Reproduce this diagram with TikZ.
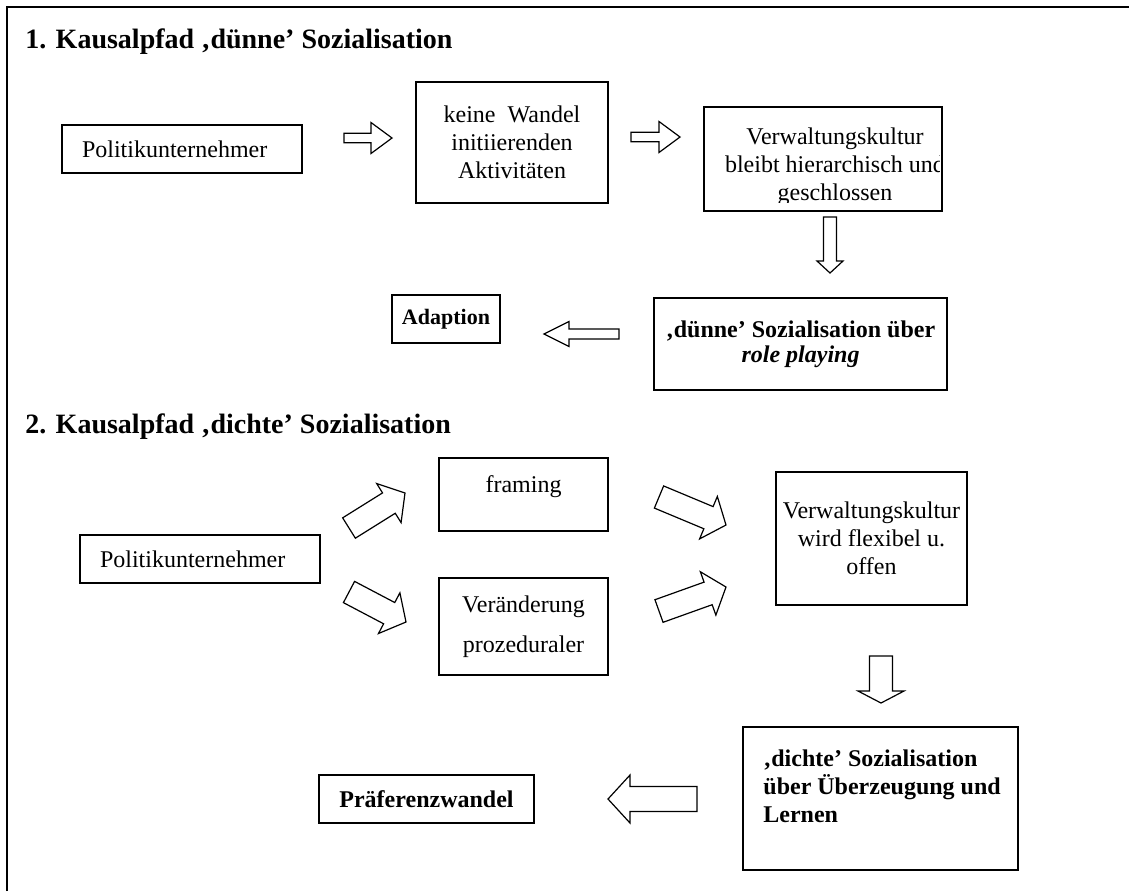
\documentclass[tikz,border=0pt]{standalone}
\usepackage{fontspec}
\setmainfont{Liberation Serif}
\usetikzlibrary{calc}

\tikzset{
  box/.style={draw, line width=1pt, inner sep=0pt, align=center,
    font=\fontsize{12}{14}\selectfont},
  boldbox/.style={box, font=\fontsize{12}{14}\selectfont\bfseries},
  txt/.style={inner sep=0pt, font=\fontsize{12}{14}\selectfont},
  heading/.style={inner sep=0pt, anchor=base west,
    font=\fontsize{14}{16}\selectfont\bfseries},
  hollow/.style={draw, line width=0.6pt, fill=white, line join=miter},
  frameline/.style={line width=1.2pt},
}

% hollow block arrow: start, tip, shaft half width, head half width, head length
\newcommand\blockarr[5]{%
  \coordinate (ba-s) at #1;
  \coordinate (ba-e) at #2;
  \coordinate (ba-h) at ($(ba-e)!#5!(ba-s)$);
  \draw[hollow] ($(ba-s)!#3!90:(ba-e)$) -- ($(ba-h)!#3!90:(ba-e)$)
    -- ($(ba-h)!#4!90:(ba-e)$) -- (ba-e) -- ($(ba-h)!#4!-90:(ba-e)$)
    -- ($(ba-h)!#3!-90:(ba-e)$) -- ($(ba-s)!#3!-90:(ba-e)$) -- cycle;
}

\begin{document}
\begin{tikzpicture}[x=0.5pt, y=-0.5pt]
\useasboundingbox (0,0) rectangle (1129,891);

% open outer frame
\draw[frameline] (7,891) -- (7,7) -- (1129,7);

% ---------- path 1 ----------
\node[heading] (h1) at (25,48) {1. Kausalpfad ‚dünne’ Sozialisation};

\node[box, text width=100pt, inner xsep=10pt, align=left, minimum height=24pt]
  (p1) at (182,149) {Politikunternehmer};
\node[box, minimum width=96pt, minimum height=60.5pt]
  (keine) at (512,142.5) {keine\ \ Wandel\\initiierenden\\Aktivitäten};
\node[box, minimum width=119pt, minimum height=52pt] (verw1) at (823,159) {};
\begin{scope}
  \clip ($(verw1.south west)+(4,-10)$) rectangle ($(verw1.north east)+(-4,4)$);
  \node[txt, align=center, anchor=north] (verw1t) at ($(verw1.north)+(12,21.5)$)
    {Verwaltungskultur\\bleibt hierarchisch und\\geschlossen};
\end{scope}
\node[boldbox, minimum width=146.5pt, minimum height=46pt,
  font=\fontsize{12}{12.5}\selectfont\bfseries]
  (dunne) at (800.5,344) {‚dünne’ Sozialisation über\\\textit{role playing}};
\node[boldbox, minimum width=54pt, minimum height=24pt,
  font=\fontsize{11}{13}\selectfont\bfseries] (adapt) at (446,319) {Adaption};

\blockarr{($(p1.east)+(41,-11)$)}{($(keine.west)+(-23,-4.5)$)}{2.35pt}{7.75pt}{10.5pt}
\blockarr{($(keine.east)+(22,-5.5)$)}{($(verw1.west)+(-23,-22)$)}{2.35pt}{7.75pt}{10.5pt}
\blockarr{($(verw1.south)+(7,5)$)}{($(dunne.north)+(29.5,-24)$)}{3.25pt}{6.5pt}{6pt}
\blockarr{($(dunne.west)+(-34,-10)$)}{($(adapt.east)+(43,15)$)}{2.5pt}{6.25pt}{12.5pt}

% ---------- path 2 ----------
\node[heading] (h2) at (25,433) {2. Kausalpfad ‚dichte’ Sozialisation};

\node[box, text width=100pt, inner xsep=10pt, align=left, minimum height=24pt]
  (p2) at (200,559) {Politikunternehmer};
\node[box, minimum width=84.5pt, minimum height=36.5pt] (framing) at (523.5,494.5) {};
\node[txt, anchor=base] (framingt) at ($(framing.north)+(0,35)$) {framing};
\node[box, minimum width=84.5pt, minimum height=48.5pt] (verand) at (523.5,626.5) {};
\node[txt, align=center, anchor=north, font=\fontsize{12}{20}\selectfont]
  (verandt) at ($(verand.north)+(0,18.6)$) {Veränderung\\prozeduraler};
\node[box, minimum width=95.5pt, minimum height=66.5pt]
  (verw2) at (871.5,538.5) {Verwaltungskultur\\wird flexibel u.\\offen};
\node[box, minimum width=137.5pt, minimum height=71.5pt] (dichte) at (880.5,798.5) {};
\node[txt, align=left, anchor=north west, font=\fontsize{12}{14}\selectfont\bfseries]
  (dichtet) at ($(dichte.north west)+(21,23.6)$)
  {‚dichte’ Sozialisation\\über Überzeugung und\\Lernen};
\node[boldbox, minimum width=107.5pt, minimum height=24pt] (praef) at (426.5,799) {Präferenzwandel};

\blockarr{($(p2.east)+(28,-31)$)}{($(framing.west)+(-33,-1.5)$)}{6pt}{11.5pt}{9.5pt}
\blockarr{($(p2.east)+(28,33)$)}{($(verand.west)+(-32,-4.5)$)}{6pt}{11.5pt}{9.5pt}
\blockarr{($(framing.east)+(50,2.5)$)}{($(verw2.west)+(-49,-13.5)$)}{6pt}{11.5pt}{9.5pt}
\blockarr{($(verand.east)+(50,-15.5)$)}{($(verw2.west)+(-49,48.5)$)}{6pt}{11.5pt}{9.5pt}
\blockarr{($(verw2.south)+(9.5,50)$)}{($(dichte.north)+(0.5,-23)$)}{5.75pt}{11.5pt}{6pt}
\blockarr{($(dichte.west)+(-45,0.5)$)}{($(praef.east)+(73,0)$)}{6.25pt}{12pt}{11pt}

\end{tikzpicture}
\end{document}
